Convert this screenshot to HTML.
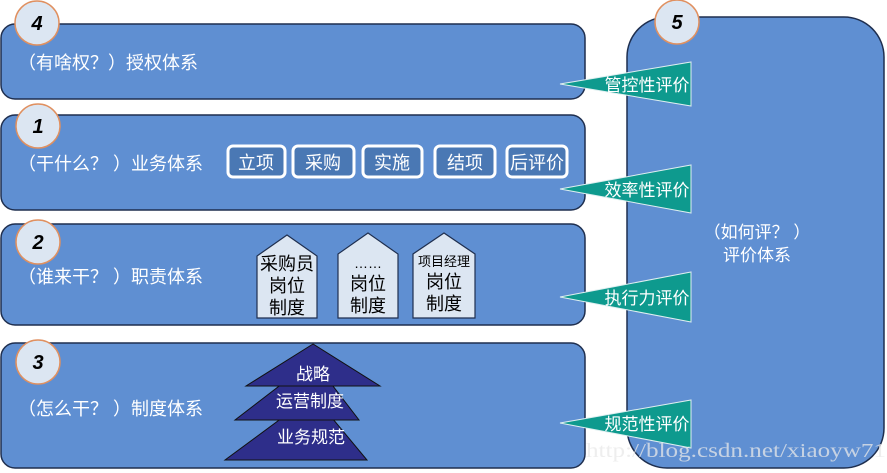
<!DOCTYPE html>
<html><head><meta charset="utf-8"><style>
body{margin:0;background:#fff}
svg{display:block}
text{font-family:"Liberation Sans","Noto Sans CJK SC",sans-serif}
</style></head><body>
<svg width="887" height="473" viewBox="0 0 887 473" xmlns="http://www.w3.org/2000/svg">
<g fill="#5f8fd2" stroke="#1f2f4f" stroke-width="1.5">
<rect x="1" y="24" width="584" height="75" rx="14"/>
<rect x="1" y="115" width="584" height="95" rx="14"/>
<rect x="1" y="224" width="584" height="101" rx="14"/>
<rect x="1" y="343" width="584" height="125" rx="14"/>
<rect x="627" y="17" width="257" height="451" rx="40"/>
</g>
<g fill="#fff" font-size="18">
<text x="18" y="69">（有啥权？）授权体系</text>
<text x="18" y="170">（干什么？ ）业务体系</text>
<text x="18" y="283">（谁来干？ ）职责体系</text>
<text x="18" y="415">（怎么干？ ）制度体系</text>
<text x="757" y="238" text-anchor="middle" font-size="17">（如何评？ ）</text>
<text x="757" y="261" text-anchor="middle" font-size="17">评价体系</text>
</g>
<g fill="#dce6f2" stroke="#e09060" stroke-width="1.5">
<circle cx="37" cy="23" r="22"/><circle cx="38" cy="126" r="22"/>
<circle cx="38" cy="242" r="22"/><circle cx="38" cy="362" r="22"/>
<circle cx="677" cy="22" r="22"/>
</g>
<g font-size="20" font-weight="bold" font-style="italic" text-anchor="middle" fill="#000">
<text x="37" y="30">4</text><text x="38" y="133">1</text>
<text x="38" y="249">2</text><text x="38" y="369">3</text><text x="677" y="29">5</text>
</g>
<g fill="#4a78b4" stroke="#fff" stroke-width="3">
<rect x="228" y="146" width="57" height="31" rx="5"/>
<rect x="293" y="146" width="61" height="31" rx="5"/>
<rect x="363" y="146" width="59" height="31" rx="5"/>
<rect x="435" y="146" width="60" height="31" rx="5"/>
<rect x="507" y="146" width="60" height="31" rx="5"/>
</g>
<g fill="#fff" font-size="18" text-anchor="middle">
<text x="256" y="169">立项</text><text x="323" y="169">采购</text>
<text x="392" y="169">实施</text><text x="465" y="169">结项</text><text x="537" y="169">后评价</text>
</g>
<g fill="#dce6f2" stroke="#1f2f4f" stroke-width="1.2">
<polygon points="257,318 257,256 287,235 317,256 317,318"/>
<polygon points="338,318 338,254 368,233 398,254 398,318"/>
<polygon points="413,318 413,254 444,233 475,254 475,318"/>
</g>
<g fill="#000" font-size="18" text-anchor="middle">
<text x="287" y="270">采购员</text><text x="287" y="292">岗位</text><text x="287" y="314">制度</text>
<text x="368" y="268" font-size="14">……</text><text x="368" y="290">岗位</text><text x="368" y="312">制度</text>
<text x="444" y="266" font-size="13">项目经理</text><text x="444" y="288">岗位</text><text x="444" y="310">制度</text>
</g>
<g fill="#2e2e8a" stroke="#111" stroke-width="1">
<polygon points="313,395 225,460 367,460"/>
<polygon points="313,360 235,420 359,420"/>
<polygon points="313,344 246,386 380,386"/>
</g>
<g fill="#fff" font-size="17" text-anchor="middle">
<text x="313" y="380">战略</text><text x="310" y="407">运营制度</text><text x="311" y="443">业务规范</text>
</g>
<g fill="#0e9a8e" stroke="#dfeff0" stroke-width="1">
<polygon points="560,84 691,62 691,106"/>
<polygon points="560,189 691,165 691,213"/>
<polygon points="560,297 691,272 691,322"/>
<polygon points="560,423 691,400 691,448"/>
</g>
<g fill="#fff" font-size="17" text-anchor="middle">
<text x="647" y="91">管控性评价</text><text x="647" y="196">效率性评价</text>
<text x="647" y="304">执行力评价</text><text x="647" y="430">规范性评价</text>
</g>
<text x="586" y="457" style="font-family:'Liberation Serif',serif" font-size="20" fill="#e8e8e8" fill-opacity="0.75" textLength="300" lengthAdjust="spacingAndGlyphs">http://blog.csdn.net/xiaoyw71</text>
</svg>
</body></html>
